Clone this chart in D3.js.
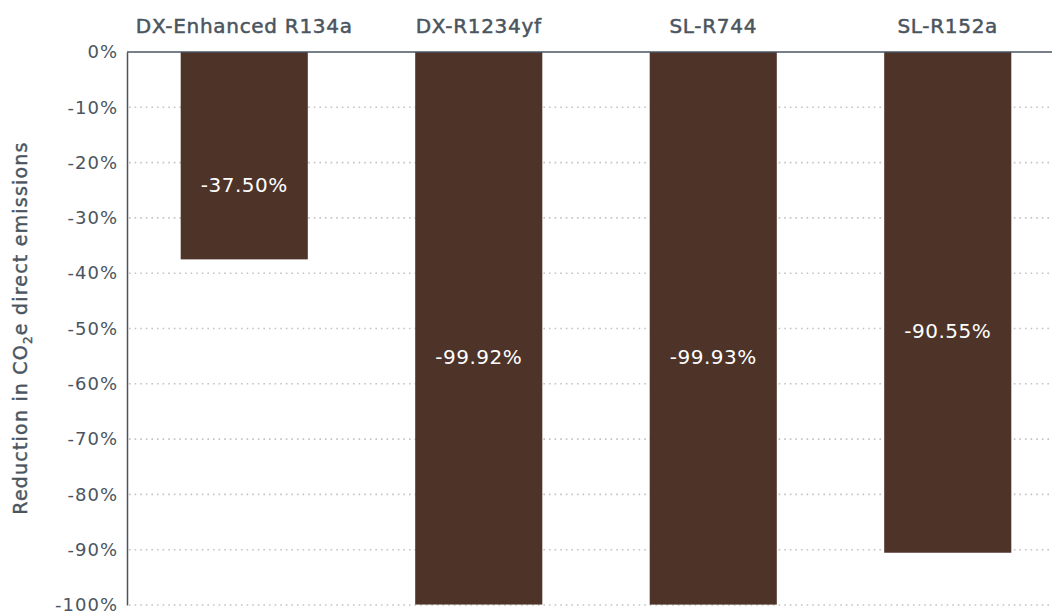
<!DOCTYPE html>
<html>
<head>
<meta charset="utf-8">
<script src="https://cdn.jsdelivr.net/npm/d3@7"></script>
<style>
  body { margin: 0; background: #fff; }
  svg { display: block; font-family: "DejaVu Sans", sans-serif; }
</style>
</head>
<body>
<svg id="chart"></svg>
<script>
// data
var categories = ["DX-Enhanced R134a", "DX-R1234yf", "SL-R744", "SL-R152a"];
var values = [-37.50, -99.92, -99.93, -90.55];
var tickValues = [0, -10, -20, -30, -40, -50, -60, -70, -80, -90, -100];

var W = 1052, H = 613;
var margin = {top: 52, left: 127, bottom: 8};
var textColor = "#4a5560";

var svg = d3.select("svg#chart")
    .attr("width", W)
    .attr("height", H);

// scales
var x = d3.scaleBand()
    .domain(categories)
    .range([margin.left, margin.left + 4 * 234.5])
    .paddingInner(0.458)
    .paddingOuter(0.229);

var y = d3.scaleLinear()
    .domain([0, -100])
    .range([margin.top, H - margin.bottom]);

// dotted grid lines
svg.append("g")
    .selectAll("line")
    .data(tickValues.filter(function (d) { return d !== 0; }))
    .enter().append("line")
    .attr("x1", margin.left + 2)
    .attr("x2", W)
    .attr("y1", function (d) { return y(d); })
    .attr("y2", function (d) { return y(d); })
    .attr("stroke", "#c4c4c4")
    .attr("stroke-width", 1.6)
    .attr("stroke-dasharray", "1.6,4");

// bars
svg.selectAll(".bar")
    .data(values)
    .enter().append("rect")
    .attr("class", "bar")
    .attr("x", function (d, i) { return x(categories[i]); })
    .attr("width", x.bandwidth())
    .attr("y", y(0))
    .attr("height", function (d) { return y(d) - y(0); })
    .attr("fill", "#4e3329");

// y axis
var yAxis = d3.axisLeft(y)
    .tickValues(tickValues)
    .tickSize(0)
    .tickPadding(9)
    .tickFormat(function (d) { return d + "%"; });

var gy = svg.append("g")
    .attr("transform", "translate(" + margin.left + ",0)")
    .call(yAxis);
gy.select(".domain").attr("stroke", textColor).attr("stroke-width", 1.5);
gy.selectAll("text")
    .attr("fill", textColor)
    .style("font-size", "18px")
    .style("letter-spacing", "1px")
    .style("font-family", "'DejaVu Sans', sans-serif");

// top zero line
svg.append("line")
    .attr("x1", margin.left)
    .attr("x2", W)
    .attr("y1", y(0))
    .attr("y2", y(0))
    .attr("stroke", textColor)
    .attr("stroke-width", 1.5);

// category labels on top
svg.selectAll(".cat-label")
    .data(categories)
    .enter().append("text")
    .attr("class", "cat-label")
    .attr("x", function (d) { return x(d) + x.bandwidth() / 2; })
    .attr("y", 33)
    .attr("text-anchor", "middle")
    .attr("fill", textColor)
    .attr("stroke", textColor)
    .attr("stroke-width", 0.5)
    .style("font-size", "20px")
    .style("letter-spacing", "0.7px")
    .text(function (d) { return d; });

// bar labels
svg.selectAll(".bar-label")
    .data(values)
    .enter().append("text")
    .attr("class", "bar-label")
    .attr("x", function (d, i) { return x(categories[i]) + x.bandwidth() / 2; })
    .attr("y", function (d) { return (y(0) + y(d)) / 2 + 29; })
    .attr("dy", "0.35em")
    .attr("text-anchor", "middle")
    .attr("fill", "#ffffff")
    .style("font-size", "20px")
    .style("letter-spacing", "0.5px")
    .text(function (d) { return d.toFixed(2) + "%"; });

// y axis title
var title = svg.append("text")
    .attr("transform", "translate(27," + 328 + ")rotate(-90)")
    .attr("text-anchor", "middle")
    .attr("fill", textColor)
    .attr("stroke", textColor)
    .attr("stroke-width", 0.4)
    .style("font-size", "19px")
    .style("letter-spacing", "1.2px");
title.append("tspan").text("Reduction in CO");
title.append("tspan").attr("dy", 5).style("font-size", "12px").text("2");
title.append("tspan").attr("dy", -5).text("e direct emissions");
</script>
</body>
</html>
